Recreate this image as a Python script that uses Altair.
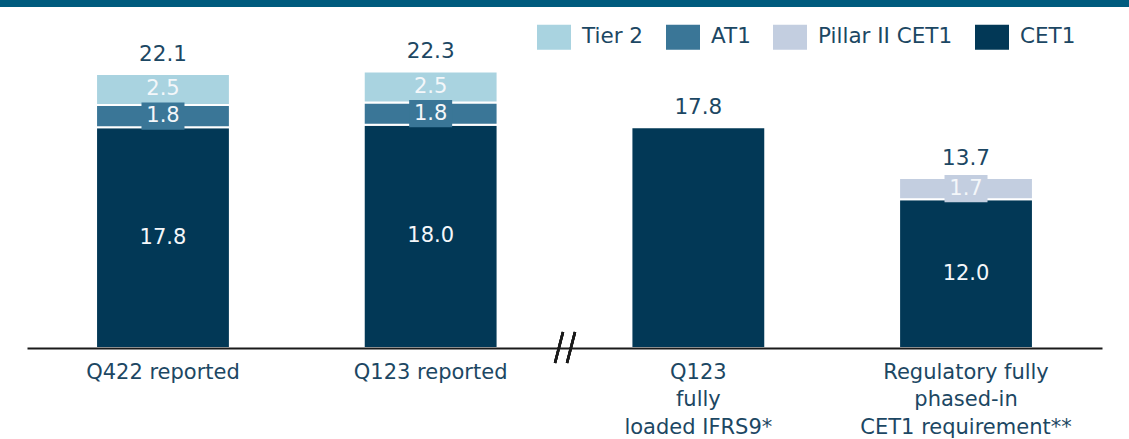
import altair as alt
import pandas as pd

# Capital stack per scenario (% of RWA)
categories = [
    "Q422 reported",
    "Q123 reported",
    "Q123|fully|loaded IFRS9*",
    "Regulatory fully|phased-in|CET1 requirement**",
]
series = ["Tier 2", "AT1", "Pillar II CET1", "CET1"]
colors = ["#A9D3E0", "#3A7697", "#C3CEE0", "#023856"]

cet1 = [17.8, 18.0, 17.8, 12.0]
pillar2 = [0.0, 0.0, 0.0, 1.7]
at1 = [1.8, 1.8, 0.0, 0.0]
tier2 = [2.5, 2.5, 0.0, 0.0]
totals = [22.1, 22.3, 17.8, 13.7]

TEXT = "#1C4763"
FONT = "DejaVu Sans"

# build stacked segments bottom-up: CET1, Pillar II, AT1, Tier 2
stack_order = [("CET1", cet1), ("Pillar II CET1", pillar2), ("AT1", at1), ("Tier 2", tier2)]
rows = []
for i, cat in enumerate(categories):
    base = 0.0
    n_parts = sum(1 for _, vals in stack_order if vals[i] > 0)
    for name, vals in stack_order:
        v = vals[i]
        if v <= 0:
            continue
        rows.append(dict(cat=cat, series=name, value=v, y0=base, y1=base + v,
                         mid=base + v / 2, inside=n_parts > 1,
                         boxed=name in ("AT1", "Pillar II CET1")))
        base += v
seg = pd.DataFrame(rows)
seg["lo"] = seg["mid"] - 1.1
seg["hi"] = seg["mid"] + 1.1
tot = pd.DataFrame(dict(cat=categories, total=totals))

x = alt.X("cat:N", sort=categories, title=None,
          scale=alt.Scale(paddingInner=0.5, paddingOuter=0.258),
          axis=alt.Axis(labelExpr="split(datum.label, '|')", labelAngle=0,
                        labelFont=FONT, labelFontSize=21, labelColor=TEXT,
                        labelLineHeight=27.5, labelBaseline="top", labelPadding=13,
                        ticks=False, grid=False, domainColor="#1a1a1a", domainWidth=2,
                        zindex=1, labelLimit=400))
yscale = alt.Scale(domain=[0, 28.06])
color = alt.Color("series:N", scale=alt.Scale(domain=series, range=colors),
                  legend=alt.Legend(orient="none", legendX=510, legendY=20,
                                    direction="horizontal", title=None,
                                    symbolType="M-1,-0.735H1V0.735H-1Z",
                                    symbolSize=1156, symbolStrokeWidth=0,
                                    symbolOpacity=1,
                                    labelFont=FONT, labelFontSize=21.5,
                                    labelColor=TEXT, labelOffset=11,
                                    columnPadding=22, padding=0))

bars = alt.Chart(seg).mark_bar(stroke="white", strokeWidth=2).encode(
    x=x,
    y=alt.Y("y1:Q", scale=yscale, axis=None),
    y2="y0:Q",
    color=color,
)

boxes = alt.Chart(seg).transform_filter("datum.boxed").mark_bar(size=43).encode(
    x=alt.X("cat:N", sort=categories),
    y=alt.Y("hi:Q", scale=yscale, axis=None),
    y2="lo:Q",
    color=alt.Color("series:N", scale=alt.Scale(domain=series, range=colors), legend=None),
)

inner = alt.Chart(seg).transform_filter("datum.inside").mark_text(
    font=FONT, fontSize=21, color="#F4F7FA", baseline="middle"
).encode(
    x=alt.X("cat:N", sort=categories),
    y=alt.Y("mid:Q", scale=yscale, axis=None),
    text=alt.Text("value:Q", format=".1f"),
)

top = alt.Chart(tot).mark_text(
    font=FONT, fontSize=21.5, color=TEXT, baseline="middle", dy=-19
).encode(
    x=alt.X("cat:N", sort=categories),
    y=alt.Y("total:Q", scale=yscale, axis=None),
    text=alt.Text("total:Q", format=".1f"),
)

# header band across the top
band = alt.Chart(tot).mark_rect(color="#005B7E").encode(
    x=alt.value(-27), x2=alt.value(1102), y=alt.value(0), y2=alt.value(7)
)

# axis break marks between reported and pro-forma scenarios
brk1 = alt.Chart(tot).mark_rule(color="#1a1a1a", strokeWidth=2.5).encode(
    x=alt.value(528), x2=alt.value(536), y=alt.value(363), y2=alt.value(332)
)
brk2 = alt.Chart(tot).mark_rule(color="#1a1a1a", strokeWidth=2.5).encode(
    x=alt.value(540), x2=alt.value(548), y=alt.value(363), y2=alt.value(332)
)

chart = alt.layer(band, bars, boxes, inner, top, brk1, brk2).properties(
    width=1075, height=348,
    background="white",
    autosize=alt.AutoSizeParams(type="none"),
    padding={"left": 27, "right": 27, "top": 0, "bottom": 91},
).configure_view(stroke="transparent", strokeWidth=0)

chart.save("out.html", embed_options={"renderer": "svg", "actions": False})
